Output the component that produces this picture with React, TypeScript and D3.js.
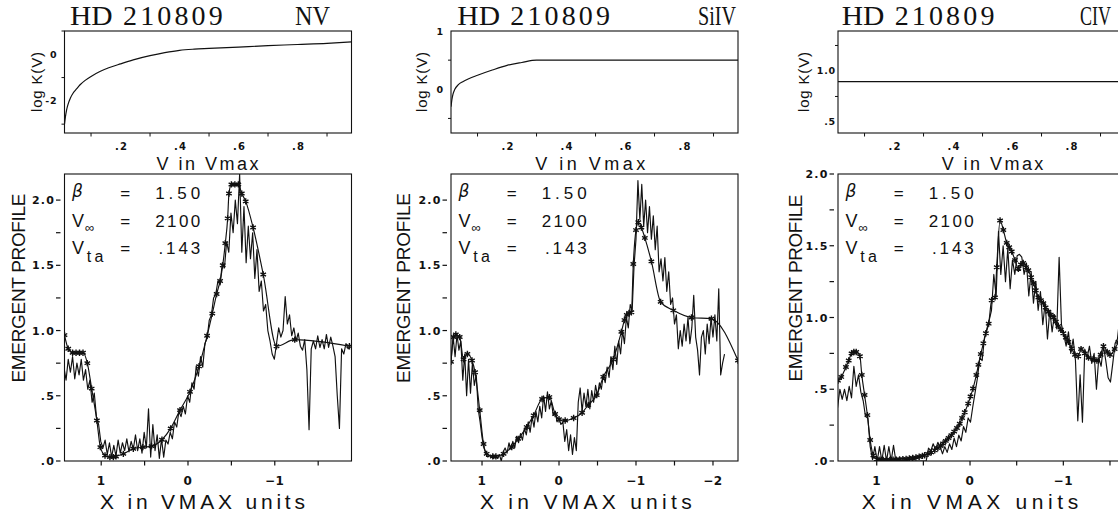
import * as d3 from "d3";

// ---- top row: log K(V) against V / Vmax ----
const kvMinorTicks = [0.1, 0.3, 0.5, 0.7, 0.9];
const kvLabelValues = [0.2, 0.4, 0.6, 0.8];
const kvLabels = [".2", ".4", ".6", ".8"];

const nvLogK: [number, number][] = [
  [0.01, -3.0], [0.013, -2.7], [0.017, -2.4], [0.022, -2.15], [0.03, -1.88], [0.04, -1.65], [0.05, -1.5],
  [0.062, -1.32], [0.08, -1.12], [0.1, -0.95], [0.13, -0.74], [0.16, -0.58], [0.2, -0.41], [0.243, -0.24],
  [0.3, -0.06], [0.35, 0.07], [0.4, 0.17], [0.45, 0.22], [0.5, 0.25], [0.6, 0.31], [0.7, 0.37],
  [0.8, 0.42], [0.9, 0.47], [0.983, 0.53],
];
const siLogK: [number, number][] = [
  [0.01, -0.3], [0.013, -0.18], [0.017, -0.08], [0.023, 0.0], [0.035, 0.08], [0.05, 0.13], [0.07, 0.18],
  [0.1, 0.24], [0.15, 0.33], [0.2, 0.41], [0.25, 0.46], [0.3, 0.5], [0.983, 0.5],
];
const cLogK: [number, number][] = [[0.01, 0.895], [0.983, 0.895]];

const nvKMinor = [1, -1, -3];
const nvKMajor = [0, -2];
const nvKLabels = ["0", "-2"];
const siKMinor = [0.5, -0.5];
const siKMajor = [1, 0];
const siKLabels = ["1", "0"];
const cKMinor = [1.25, 0.75];
const cKMajor = [1.0, 0.5];
const cKLabels = ["1.0", ".5"];

// ---- bottom row: emergent profiles ----
const profileXTicks = [1.5, 1, 0.5, 0, -0.5, -1, -1.5, -2];
const profileXLabelValues = [1, 0, -1, -2];
const profileYTicks = [0, 0.25, 0.5, 0.75, 1, 1.25, 1.5, 1.75, 2];
const profileYLabelValues = [0, 0.5, 1, 1.5, 2];
const profileYLabels = [".0", ".5", "1.0", "1.5", "2.0"];

const paramNames = ["β", "V", "V"];
const paramSubs = ["", "∞", "ta"];
const paramValues = ["1.50", "2100", ".143"];

// observed spectra sampled every 0.025 VMAX, starting at the left edge
const OBS_STEP = 0.025;
const nvObserved = [
  0.72, 0.62, 0.78, 0.68, 0.80, 0.63, 0.75, 0.66, 0.78, 0.62,
  0.70, 0.55, 0.62, 0.45, 0.52, 0.34, 0.28, 0.15, 0.10, 0.16,
  0.05, 0.14, 0.03, 0.12, 0.04, 0.16, 0.06, 0.14, 0.08, 0.17,
  0.07, 0.15, 0.09, 0.20, 0.08, 0.17, 0.06, 0.22, 0.10, 0.40,
  0.03, 0.28, 0.08, 0.20, 0.02, 0.17, 0.03, 0.16, 0.13, 0.22,
  0.17, 0.30, 0.26, 0.38, 0.34, 0.42, 0.36, 0.50, 0.45, 0.60,
  0.55, 0.73, 0.65, 0.80, 0.72, 0.90, 0.94, 1.08, 1.12, 1.25,
  1.28, 1.38, 1.35, 1.52, 1.48, 1.68, 1.60, 1.90, 1.75, 2.00,
  1.82, 2.20, 1.60, 1.95, 1.52, 1.80, 1.55, 1.75, 1.40, 1.62,
  1.30, 1.38, 1.15, 1.20, 1.00, 0.92, 0.82, 0.78, 0.90, 1.02,
  0.95, 1.00, 1.26, 1.05, 1.12, 0.96, 1.02, 0.92, 0.98, 0.88,
  0.85, 0.93, 0.70, 0.24, 0.86, 0.92, 0.86, 0.96, 0.87, 0.93,
  0.86, 0.97, 0.87, 0.95, 0.88, 0.80, 0.50, 0.25, 0.86, 0.82,
  0.90, 0.86, 0.88,
];
const nvModel: [number, number][] = [
  [1.423, 0.965], [1.38, 0.86], [1.33, 0.83], [1.29, 0.83], [1.25, 0.83], [1.21, 0.83], [1.16, 0.75],
  [1.11, 0.555], [1.05, 0.31], [1.01, 0.106], [0.956, 0.042], [0.9, 0.03], [0.86, 0.03], [0.83, 0.035],
  [0.745, 0.055], [0.63, 0.094], [0.52, 0.106], [0.42, 0.114], [0.3, 0.163], [0.2, 0.25], [0.092, 0.39],
  [-0.023, 0.53], [-0.127, 0.726], [-0.22, 0.96], [-0.28, 1.13], [-0.33, 1.28], [-0.37, 1.38], [-0.4, 1.5],
  [-0.43, 1.67], [-0.457, 1.86], [-0.472, 2.05], [-0.5, 2.12], [-0.54, 2.12], [-0.58, 2.12], [-0.62, 2.05],
  [-0.665, 1.99], [-0.75, 1.79], [-0.867, 1.43], [-1.02, 0.88], [-1.23, 0.93], [-1.86, 0.88],
];

const siObserved = [
  0.78, 0.95, 0.80, 0.97, 0.85, 0.92, 0.62, 0.82, 0.50, 0.78,
  0.52, 0.75, 0.58, 0.66, 0.40, 0.30, 0.18, 0.10, 0.06, 0.03,
  0.04, 0.03, 0.02, 0.04, 0.02, 0.05, 0.00, 0.07, 0.10, 0.06,
  0.14, 0.09, 0.15, 0.10, 0.19, 0.14, 0.21, 0.16, 0.25, 0.20,
  0.30, 0.22, 0.34, 0.26, 0.38, 0.30, 0.42, 0.33, 0.50, 0.38,
  0.53, 0.40, 0.46, 0.35, 0.38, 0.30, 0.33, 0.28, 0.30, 0.15,
  0.24, 0.08, 0.20, 0.05, 0.18, 0.08, 0.45, 0.56, 0.38, 0.52,
  0.42, 0.55, 0.40, 0.54, 0.45, 0.58, 0.50, 0.60, 0.55, 0.66,
  0.60, 0.72, 0.64, 0.80, 0.70, 0.88, 0.74, 0.92, 0.82, 1.00,
  0.90, 1.10, 1.02, 1.20, 1.15, 1.50, 1.70, 2.15, 1.85, 2.12,
  1.80, 2.00, 1.75, 1.95, 1.70, 1.88, 1.62, 1.80, 1.45, 1.55,
  1.38, 1.56, 1.30, 1.45, 1.20, 1.25, 1.05, 1.12, 0.86, 1.00,
  0.88, 1.05, 0.92, 1.10, 0.90, 1.02, 1.27, 0.95, 0.85, 0.66,
  0.95, 1.00, 0.82, 1.05, 0.90, 1.10, 0.95, 1.12, 0.92, 1.32,
  0.66, 0.75, 0.82,
];
const siModel: [number, number][] = [
  [1.403, 0.76], [1.37, 0.95], [1.34, 0.97], [1.29, 0.95], [1.24, 0.78], [1.19, 0.82], [1.13, 0.77],
  [1.09, 0.68], [1.03, 0.39], [0.98, 0.13], [0.94, 0.055], [0.86, 0.035], [0.82, 0.035], [0.72, 0.055],
  [0.614, 0.107], [0.53, 0.17], [0.42, 0.26], [0.33, 0.35], [0.22, 0.475], [0.125, 0.49], [0.05, 0.36],
  [0.0, 0.32], [-0.08, 0.31], [-0.19, 0.33], [-0.3, 0.37], [-0.38, 0.43], [-0.49, 0.505], [-0.575, 0.645],
  [-0.705, 0.78], [-0.81, 0.99], [-0.85, 1.08], [-0.88, 1.12], [-0.91, 1.135], [-0.94, 1.14], [-0.965, 1.51],
  [-1.0, 1.77], [-1.03, 1.83], [-1.07, 1.79], [-1.115, 1.71], [-1.2, 1.53], [-1.32, 1.22], [-1.485, 1.155],
  [-1.72, 1.1], [-1.98, 1.09], [-2.325, 0.77],
];

const cObserved = [
  0.37, 0.50, 0.43, 0.50, 0.42, 0.52, 0.44, 0.66, 0.52, 0.60,
  0.48, 0.42, 0.31, 0.30, 0.10, 0.01, 0.10, 0.00, 0.10, 0.00,
  0.11, 0.00, 0.10, 0.00, 0.11, 0.00, 0.00, 0.00, 0.00, 0.00,
  0.00, 0.00, 0.00, 0.00, 0.00, 0.00, 0.00, 0.00, 0.00, 0.09,
  0.07, 0.12, 0.08, 0.13, 0.10, 0.05, 0.10, 0.06, 0.12, 0.08,
  0.16, 0.10, 0.18, 0.14, 0.24, 0.20, 0.30, 0.27, 0.38, 0.48,
  0.58, 0.72, 0.70, 0.86, 0.92, 0.98, 1.05, 1.30, 1.15, 1.60,
  1.30, 1.50, 1.25, 1.48, 1.20, 1.40, 1.30, 1.43, 1.44, 1.42,
  1.30, 1.38, 1.15, 1.32, 1.10, 1.25, 1.05, 1.18, 0.95, 1.10,
  0.85, 1.05, 0.90, 1.02, 0.92, 1.42, 0.95, 0.88, 0.80, 0.90,
  0.75, 0.85, 0.70, 0.28, 0.60, 0.27, 0.78, 0.72, 0.80, 0.68,
  0.75, 0.50, 0.72, 0.66, 0.80, 0.70, 0.58, 0.55, 0.68, 0.82,
  0.85, 1.00,
];
const cModel: [number, number][] = [
  [1.415, 0.56], [1.38, 0.586], [1.33, 0.655], [1.3, 0.7], [1.27, 0.75], [1.245, 0.76], [1.22, 0.76],
  [1.18, 0.73], [1.16, 0.6], [1.13, 0.46], [1.1, 0.32], [1.07, 0.146], [1.036, 0.04], [1.0, 0.013],
  [0.965, 0.01], [0.93, 0.008], [0.895, 0.008], [0.86, 0.008], [0.825, 0.009], [0.79, 0.01], [0.755, 0.011],
  [0.72, 0.013], [0.685, 0.015], [0.65, 0.018], [0.615, 0.021], [0.58, 0.025], [0.545, 0.03], [0.51, 0.036],
  [0.486, 0.04], [0.45, 0.05], [0.415, 0.06], [0.378, 0.075], [0.345, 0.09], [0.315, 0.105], [0.289, 0.122],
  [0.26, 0.14], [0.23, 0.16], [0.2, 0.18], [0.17, 0.205], [0.14, 0.23], [0.11, 0.26], [0.085, 0.3],
  [0.057, 0.34], [0.02, 0.4], [-0.005, 0.45], [-0.032, 0.505], [-0.068, 0.6], [-0.09, 0.67], [-0.115, 0.745],
  [-0.143, 0.82], [-0.17, 0.89], [-0.2, 0.957], [-0.232, 1.12], [-0.268, 1.14], [-0.286, 1.35], [-0.322, 1.676],
  [-0.357, 1.61], [-0.393, 1.52], [-0.42, 1.49], [-0.447, 1.46], [-0.482, 1.4], [-0.518, 1.34], [-0.545, 1.37],
  [-0.57, 1.38], [-0.6, 1.35], [-0.625, 1.33], [-0.655, 1.28], [-0.68, 1.24], [-0.705, 1.19], [-0.732, 1.14],
  [-0.76, 1.12], [-0.786, 1.1], [-0.81, 1.07], [-0.84, 1.04], [-0.865, 1.02], [-0.893, 1.0], [-0.92, 0.97],
  [-0.946, 0.94], [-0.973, 0.915], [-1.0, 0.89], [-1.027, 0.86], [-1.054, 0.83], [-1.09, 0.785], [-1.125, 0.74],
  [-1.16, 0.73], [-1.19, 0.78], [-1.23, 0.75], [-1.27, 0.72], [-1.32, 0.71], [-1.36, 0.7], [-1.4, 0.74],
  [-1.43, 0.8], [-1.47, 0.76], [-1.5, 0.74], [-1.55, 0.78], [-1.59, 0.83], [-1.661, 0.95],
];

// layout
const FRAME_W = 287;
const TOP_Y0 = 31, TOP_Y1 = 133;
const BOT_Y0 = 174, BOT_Y1 = 461;
const INK = "#111";
const SANS = "Liberation Sans, Arial, sans-serif";
const SERIF = "Liberation Serif, Times New Roman, serif";
const TICKFONT = "DejaVu Sans, sans-serif";

// ion labels are condensed: natural width (em at 27px) and drawn width
const panels = [
  {
    ion: "NV", ionNat: 39, ionW: 35, ionRight: 330,
    left: 64.5, logK: nvLogK, kDomain: [-3.38, 1.0], kMinor: nvKMinor, kMajor: nvKMajor, kLabels: nvKLabels, kPad: 7,
    xDomain: [1.423, -1.884], yMax: 2.2, obsStart: 1.43, observed: nvObserved, model: nvModel,
    titleX: 70, logKX: 42, vLabX: 207.5, vLabW: 102,
    empX: 25, empW: 189, xLabX: 202.5, xLabW: 205,
  },
  {
    ion: "SiIV", ionNat: 51, ionW: 38, ionRight: 736,
    left: 451, logK: siLogK, kDomain: [-0.75, 1.0], kMinor: siKMinor, kMajor: siKMajor, kLabels: siKLabels, kPad: 7,
    xDomain: [1.403, -2.325], yMax: 2.2, obsStart: 1.4, observed: siObserved, model: siModel,
    titleX: 457.3, logKX: 427, vLabX: 590.3, vLabW: 110,
    empX: 410, empW: 190, xLabX: 585.8, xLabW: 211.7,
  },
  {
    ion: "CIV", ionNat: 46.4, ionW: 31, ionRight: 1111,
    left: 838, logK: cLogK, kDomain: [0.392, 1.392], kMinor: cKMinor, kMajor: cKMajor, kLabels: cKLabels, kPad: 2,
    xDomain: [1.415, -1.661], yMax: 2.0, obsStart: 1.42, observed: cObserved, model: cModel,
    titleX: 841.7, logKX: 809, vLabX: 992.5, vLabW: 101.7,
    empX: 802, empW: 187, xLabX: 970, xLabW: 216.7,
  },
];

const starType = (d3 as any).symbolAsterisk || d3.symbolCross;
const starPath = d3.symbol().type(starType).size(28)() as string;

const fmtX = d3.format("d");

function Panel({ p }: { p: any }) {
  const L = p.left;
  const R = L + FRAME_W;

  // top
  const kx = d3.scaleLinear().domain([0.01, 0.983]).range([L, R]);
  const ky = d3.scaleLinear().domain(p.kDomain).range([TOP_Y1, TOP_Y0]);
  const kLine = d3.line<[number, number]>().x((d) => kx(d[0])).y((d) => ky(d[1])).curve(d3.curveMonotoneX);

  // bottom
  const x = d3.scaleLinear().domain(p.xDomain).range([L, R]);
  const y = d3.scaleLinear().domain([0, p.yMax]).range([BOT_Y1, BOT_Y0]);
  const obsPts: [number, number][] = p.observed.map((v: number, i: number) => [p.obsStart - i * OBS_STEP, v]);
  const obsLine = d3.line<[number, number]>().x((d) => x(d[0])).y((d) => y(d[1]));
  const modelLine = d3.line<[number, number]>().x((d) => x(d[0])).y((d) => y(d[1])).curve(d3.curveMonotoneX);

  const inX = (v: number) => v <= p.xDomain[0] && v >= p.xDomain[1];
  const clipId = "clip-" + p.ion;
  const T = BOT_Y0;
  const ionScale = p.ionW / p.ionNat;

  return (
    <g>
      <defs>
        <clipPath id={clipId}>
          <rect x={L} y={BOT_Y0} width={FRAME_W} height={BOT_Y1 - BOT_Y0} />
        </clipPath>
        <clipPath id={clipId + "-k"}>
          <rect x={L} y={TOP_Y0} width={FRAME_W} height={TOP_Y1 - TOP_Y0} />
        </clipPath>
      </defs>

      {/* titles */}
      <text x={p.titleX} y={25} fontFamily={SERIF} fontSize={28} fill={INK}
        textLength={42.7} lengthAdjust="spacingAndGlyphs">HD</text>
      <text x={p.titleX + 53} y={25} fontFamily={SERIF} fontSize={28} fill={INK}
        textLength={99.7} lengthAdjust="spacing">210809</text>
      <text transform={`translate(${p.ionRight - p.ionW},25) scale(${ionScale},1)`} fontFamily={SERIF}
        fontSize={27} fill={INK} textLength={p.ionNat} lengthAdjust="spacingAndGlyphs">{p.ion}</text>

      {/* top frame */}
      <rect x={L} y={TOP_Y0} width={FRAME_W} height={TOP_Y1 - TOP_Y0} fill="none" stroke={INK} strokeWidth={1.1} />
      <path d={kLine(p.logK) || ""} fill="none" stroke={INK} strokeWidth={1.2} clipPath={`url(#${clipId}-k)`} />
      {kvMinorTicks.map((t) => (
        <line key={"kt" + t} x1={kx(t)} x2={kx(t)} y1={TOP_Y1} y2={TOP_Y1 + 3.5} stroke={INK} strokeWidth={1} />
      ))}
      {kvLabelValues.map((t, i) => (
        <text key={"kl" + t} x={kx(t) + 1} y={149.5} textAnchor="middle" fontFamily={TICKFONT}
          fontWeight="bold" fontSize={10} letterSpacing={1.2} fill={INK}>{kvLabels[i]}</text>
      ))}
      {p.kMinor.map((t: number) => (
        <line key={"ky" + t} x1={L - 3} x2={L} y1={ky(t)} y2={ky(t)} stroke={INK} strokeWidth={1} />
      ))}
      {p.kMajor.map((t: number, i: number) => (
        <text key={"kyl" + t} x={L - p.kPad} y={ky(t) + 3.5} textAnchor="end" fontFamily={TICKFONT}
          fontWeight="bold" fontSize={9.5} letterSpacing={0.8} fill={INK}>{p.kLabels[i]}</text>
      ))}
      <text transform={`translate(${p.logKX},82) rotate(-90)`} textAnchor="middle" fontSize={15}
        fontFamily={SANS} fill={INK} textLength={60} lengthAdjust="spacing">log K(V)</text>
      <text x={p.vLabX} y={170} textAnchor="middle" fontSize={18} fontFamily={SANS}
        fill={INK} textLength={p.vLabW} lengthAdjust="spacing">V in Vmax</text>

      {/* bottom frame */}
      <rect x={L} y={BOT_Y0} width={FRAME_W} height={BOT_Y1 - BOT_Y0} fill="none" stroke={INK} strokeWidth={1.1} />
      {profileXTicks.filter(inX).map((t) => (
        <line key={"xt" + t} x1={x(t)} x2={x(t)} y1={BOT_Y1} y2={BOT_Y1 + 4.5} stroke={INK} strokeWidth={1.2} />
      ))}
      {profileXLabelValues.filter(inX).map((t) => (
        <text key={"xl" + t} x={x(t)} y={485} textAnchor="middle" fontFamily={TICKFONT}
          fontWeight="bold" fontSize={12} letterSpacing={0.6} fill={INK}>{fmtX(t)}</text>
      ))}
      {profileYTicks.filter((t) => t <= p.yMax).map((t) => (
        <line key={"yt" + t} x1={L - 8.5} x2={L - 4} y1={y(t)} y2={y(t)} stroke={INK} strokeWidth={1.2} />
      ))}
      {profileYLabelValues.filter((t) => t <= p.yMax).map((t, i) => (
        <text key={"yl" + t} x={L - 9.5} y={y(t) + 4} textAnchor="end" fontFamily={TICKFONT}
          fontWeight="bold" fontSize={11} letterSpacing={1.2} fill={INK}>{profileYLabels[i]}</text>
      ))}
      <text transform={`translate(${p.empX},288) rotate(-90)`} textAnchor="middle" fontSize={19}
        fontFamily={SANS} fill={INK} textLength={p.empW} lengthAdjust="spacing">EMERGENT PROFILE</text>
      <text x={p.xLabX} y={509} textAnchor="middle" fontSize={21} fontFamily={SANS}
        fill={INK} textLength={p.xLabW} lengthAdjust="spacing">X in VMAX units</text>

      {/* parameters */}
      <g fontFamily={SANS} fill={INK}>
        <text x={L + 7.4} y={T + 23} fontSize={17} fontStyle="italic" fontFamily={TICKFONT}>{paramNames[0]}</text>
        <text x={L + 7.4} y={T + 53} fontSize={18}>{paramNames[1]}</text>
        <text x={L + 20.5} y={T + 58} fontSize={13}>{paramSubs[1]}</text>
        <text x={L + 7.4} y={T + 79.7} fontSize={18}>{paramNames[2]}</text>
        <text x={L + 22.2} y={T + 88} fontSize={16} textLength={16.6} lengthAdjust="spacing">{paramSubs[2]}</text>
        {[24.7, 53, 79.7].map((b, i) => (
          <g key={"par" + i}>
            <text x={L + 60.7} y={T + b} textAnchor="middle" fontSize={17}>=</text>
            <text x={L + 135.7 - (i === 2 ? 41.7 : 45)} y={T + b} fontSize={17}
              textLength={i === 2 ? 41.7 : 45} lengthAdjust="spacing">{paramValues[i]}</text>
          </g>
        ))}
      </g>

      {/* data */}
      <g clipPath={`url(#${clipId})`}>
        <path d={obsLine(obsPts) || ""} fill="none" stroke={INK} strokeWidth={1.15} strokeLinejoin="round" />
        <path d={modelLine(p.model) || ""} fill="none" stroke={INK} strokeWidth={1.15} />
        {p.model.map((d: [number, number], i: number) => (
          <path key={"st" + i} d={starPath} transform={`translate(${x(d[0])},${y(d[1])})`}
            fill="none" stroke={INK} strokeWidth={1.4} />
        ))}
      </g>
    </g>
  );
}

export default function App() {
  return (
    <svg width={1118} height={510} style={{ position: "absolute", left: 0, top: 0, background: "#fff" }}>
      <rect width={1118} height={510} fill="#fff" />
      {panels.map((p) => (
        <Panel key={p.ion} p={p} />
      ))}
    </svg>
  );
}
